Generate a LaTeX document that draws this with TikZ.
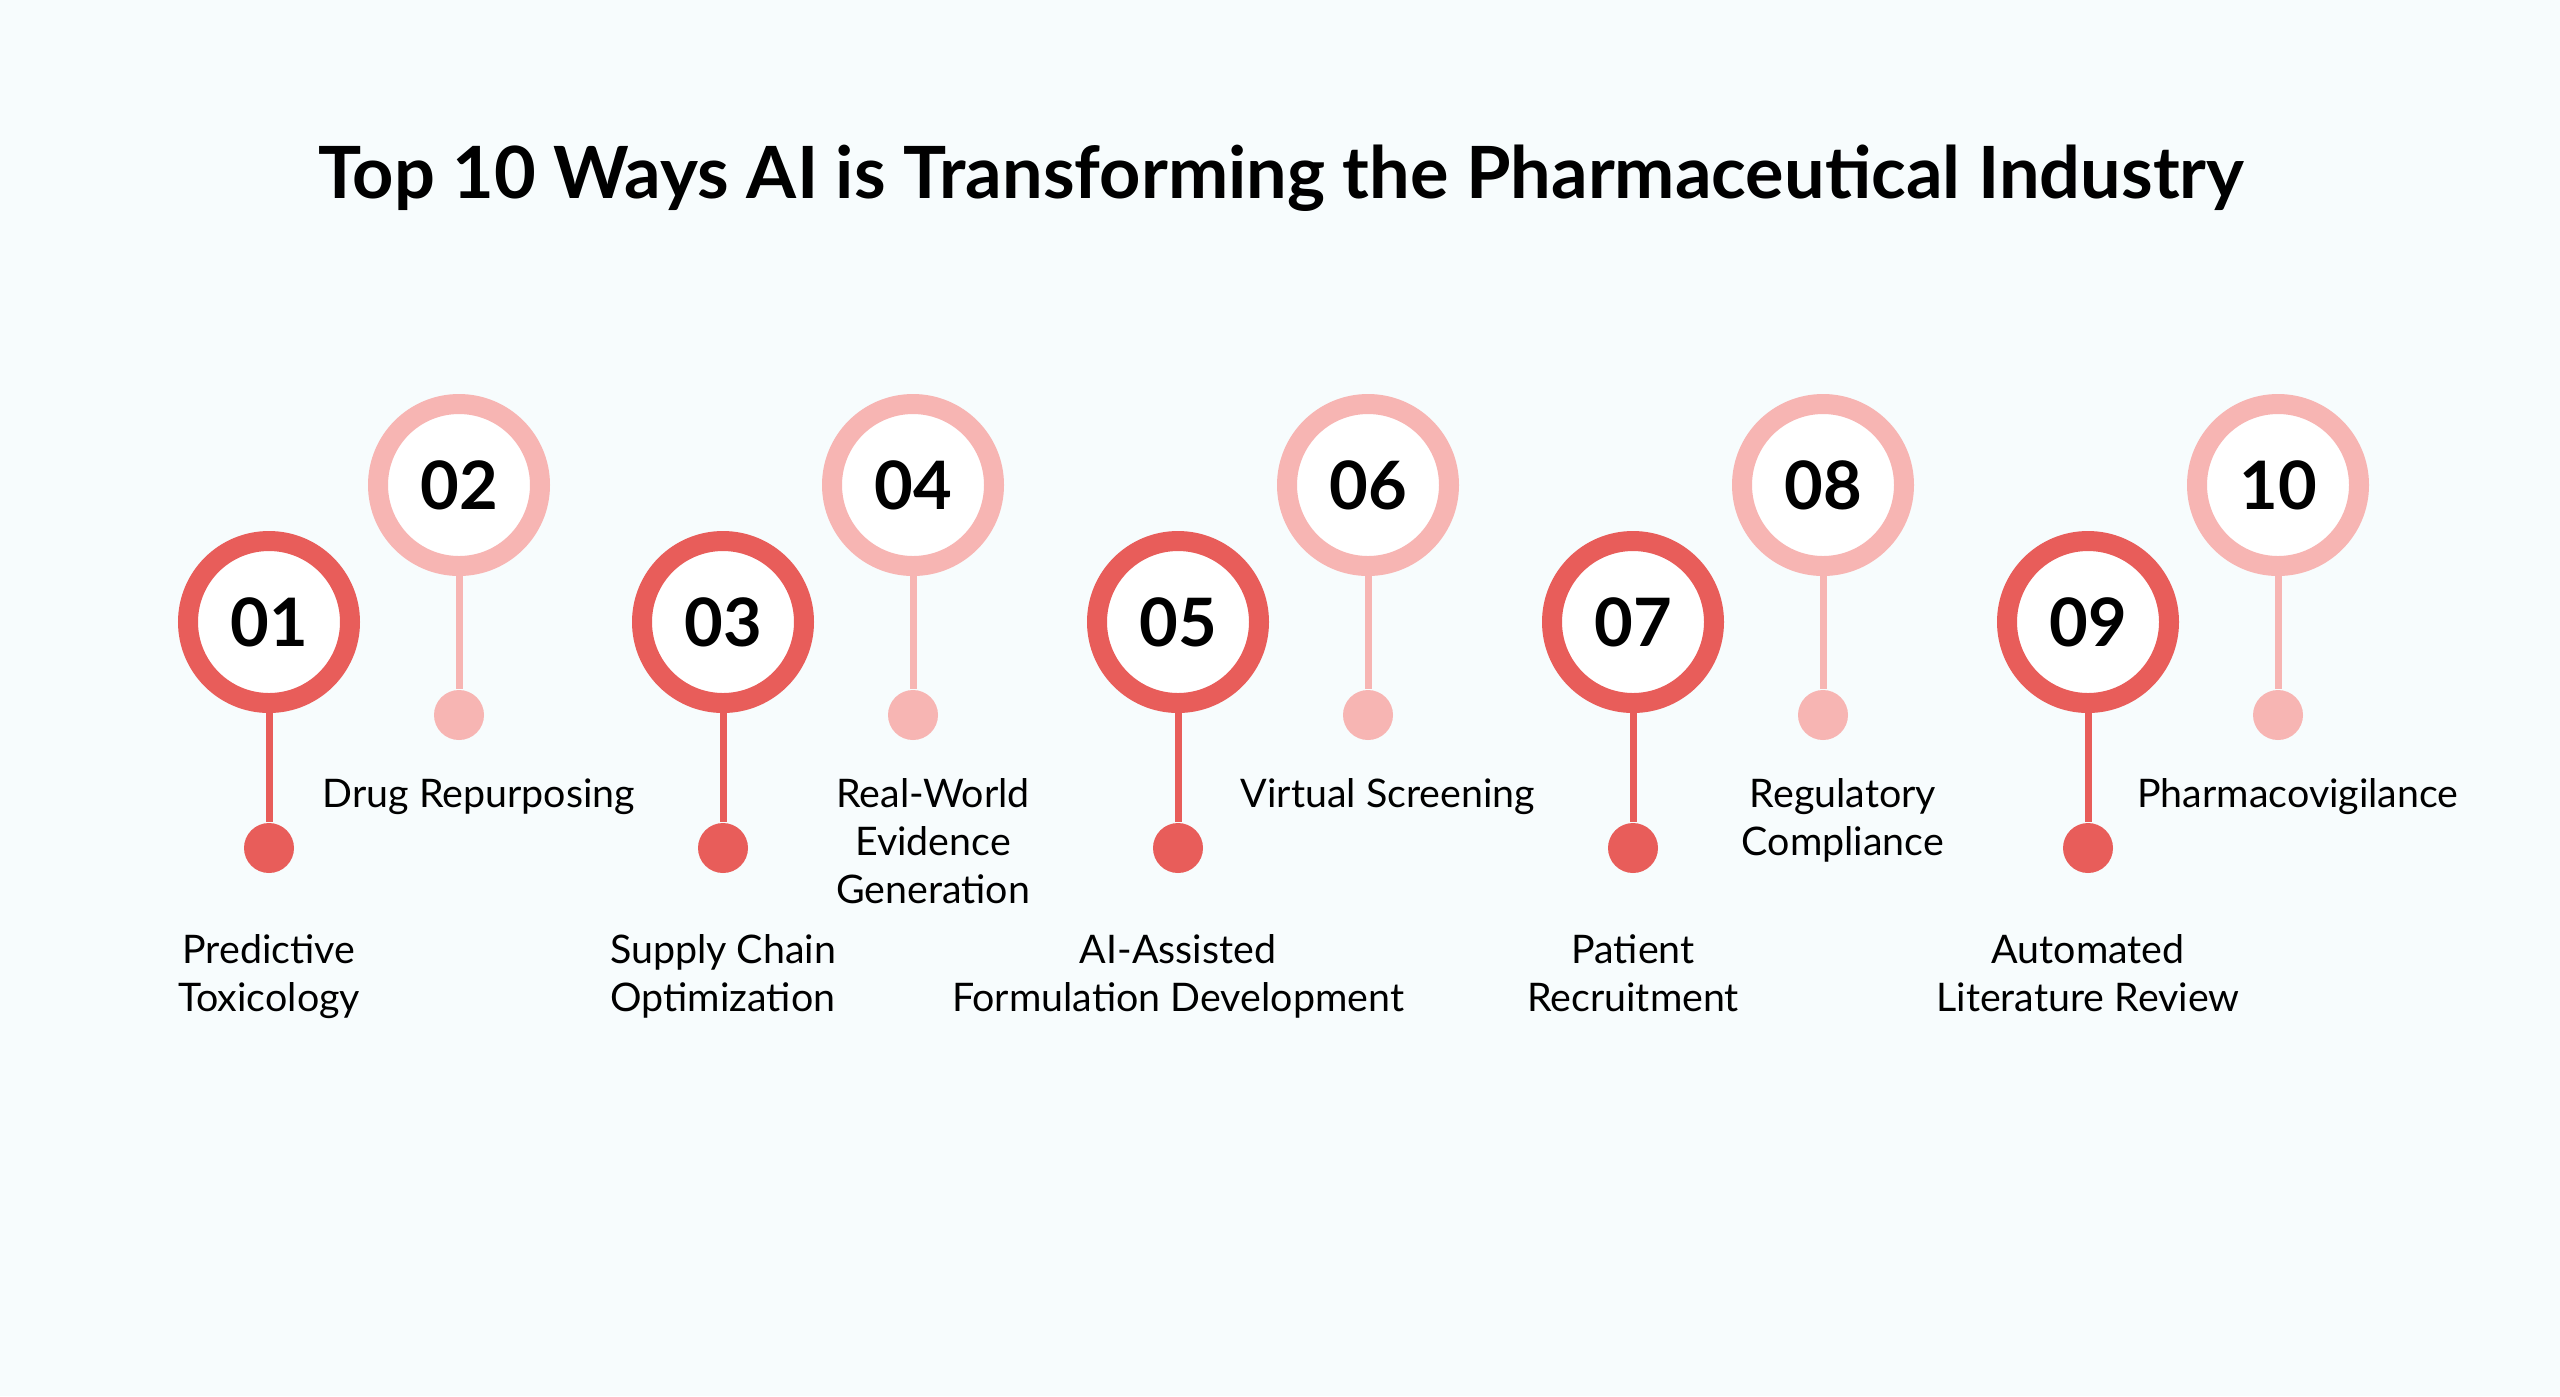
\documentclass[tikz,border=0pt]{standalone}
\usepackage{fontspec}
\setmainfont{Lato}
\usetikzlibrary{positioning}
\definecolor{bgcol}{HTML}{F7FCFD}
\definecolor{darkred}{HTML}{E85D5A}
\definecolor{lightred}{HTML}{F7B5B3}
\tikzstyle{ring}=[circle,draw,fill=white,line width=0.2cm,minimum
size=1.62cm,inner sep=0pt,font=\fontsize{19}{22}\selectfont\bfseries]
\tikzstyle{dot}=[circle,inner sep=0pt,minimum size=0.5cm]
\tikzstyle{label}=[align=center,anchor=north,inner sep=0pt,
  font=\fontsize{11.2}{13.6}\selectfont]
\begin{document}
\begin{tikzpicture}
  \fill[bgcol] (0,0) rectangle (25.6,-13.96);
  \useasboundingbox (0,0) rectangle (25.6,-13.96);
  \node[font=\fontsize{20.5}{24}\selectfont\bfseries] (title) at (12.81,-1.78)
  {Top 10 Ways AI is Transforming the Pharmaceutical Industry};

  % odd items: dark, low
  \foreach \i/\x/\txt in {01/2.69/{Predictive\\Toxicology},
    03/7.23/{Supply Chain\\Optimization},
    05/11.78/{AI-Assisted\\Formulation Development},
    07/16.33/{Patient\\Recruitment},
    09/20.88/{Automated\\Literature Review}} {
    \node[ring, draw=darkred] (c\i) at (\x,-6.22) {\i};
    \node[dot, fill=darkred] (d\i) at (\x,-8.48) {};
    \draw[darkred, line width=0.07cm] (c\i.south) -- (d\i);
    \node[label] (t\i) at (\x,-9.34) {\txt};
  }

  % even items: light, high
  \foreach \i/\x/\txt in {02/4.59/{Drug Repurposing},
    04/9.13/{Real-World\\Evidence\\Generation},
    06/13.68/{Virtual Screening},
    08/18.23/{Regulatory\\Compliance},
    10/22.78/{Pharmacovigilance}} {
    \node[ring, draw=lightred] (c\i) at (\x,-4.85) {\i};
    \node[dot, fill=lightred] (d\i) at (\x,-7.15) {};
    \draw[lightred, line width=0.07cm] (c\i.south) -- (d\i);
    \node[label, xshift=0.2cm] (t\i) at (\x,-7.78) {\txt};
  }
\end{tikzpicture}
\end{document}
